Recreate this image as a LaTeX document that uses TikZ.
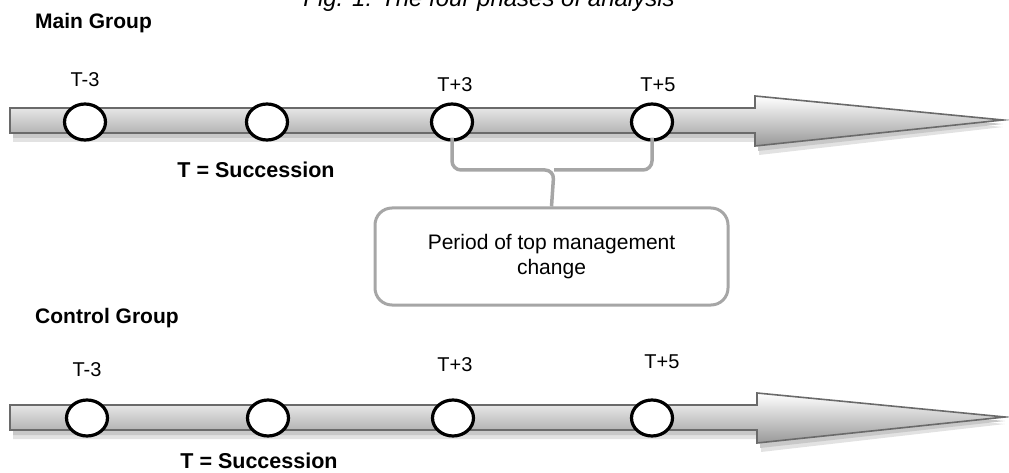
\documentclass[tikz,border=0pt]{standalone}
\usepackage{fontspec}
\setmainfont{Liberation Sans}
\usetikzlibrary{calc,shapes.geometric}
\definecolor{arrowline}{HTML}{6A6A6A}
\definecolor{shadowgray}{HTML}{C8C8C8}
\definecolor{shadowfaint}{HTML}{E2E2E2}
\definecolor{bracegray}{HTML}{A6A6A6}
\tikzset{
  timeline/.style={draw=arrowline, line width=1.6pt, shading=axis,
    top color=white, bottom color=black!40},
  tlshadow/.style={fill=shadowgray, draw=none},
  tlshadowsoft/.style={fill=shadowfaint, draw=none},
  tick/.style={ellipse, draw=black, line width=3.2pt, fill=white,
    minimum width=41pt, minimum height=36pt, inner sep=0pt},
  ticklabel/.style={font=\fontsize{20}{23}\selectfont, inner sep=0pt},
  grouptitle/.style={font=\bfseries\fontsize{21}{25}\selectfont, inner sep=0pt, anchor=west},
  legendtext/.style={font=\bfseries\fontsize{21.5}{25}\selectfont, inner sep=0pt},
  brace/.style={draw=bracegray, line width=3.5pt, rounded corners=9pt},
  notebox/.style={draw=bracegray, line width=3pt, rounded corners=17pt, fill=white,
    minimum width=353pt, minimum height=97pt, align=center,
    font=\fontsize{21}{25}\selectfont}
}
\begin{document}
\begin{tikzpicture}[x=1pt, y=-1pt]
  \useasboundingbox (0,0) rectangle (1009,473);
  \begin{scope}
    \clip (0,0) rectangle (1009,473);
    % figure caption, partly cut off at the top edge
    \node[anchor=base, inner sep=0pt, font=\itshape\fontsize{24}{28}\selectfont]
      (caption) at (489,7) {Fig. 1: The four phases of analysis};
  \end{scope}

  % ---------- main group ----------
  \node[grouptitle] (maintitle) at (35,23) {Main Group};
  \fill[tlshadowsoft] (13,117) -- (759,117) -- (759,105) -- (1003,127) -- (759,155) -- (759,142) -- (13,142) -- cycle;
  \fill[tlshadow] (13,113) -- (758,113) -- (758,101) -- (1003,124) -- (758,151) -- (758,138) -- (13,138) -- cycle;
  \path[timeline] (10,108) -- (755,108) -- (755,96) -- (1003,120) -- (755,146) -- (755,133) -- (10,133) -- cycle;
  \node[tick] (m1) at (85,122) {};
  \node[tick] (m2) at (267,122) {};
  \node[tick] (m3) at (452,122) {};
  \node[tick] (m4) at (652,122) {};
  \node[ticklabel] (m1l) at (85,80) {T-3};
  \node[ticklabel] (m3l) at (455,85) {T+3};
  \node[ticklabel] (m4l) at (658,85) {T+5};
  \node[legendtext] (mainlegend) at (256,170) {T = Succession};

  % period of top management change
  \node[notebox] (box) at (551.5,256.5) {Period of top management\\change};
  \coordinate (bracemid) at (554,170);
  \draw[brace] ($(m3.south)+(0,-4)$) |- (bracemid) -- (box.north);
  \draw[brace] ($(m4.south)+(0,-4)$) |- (bracemid);

  % ---------- control group ----------
  \node[grouptitle] (ctrltitle) at (35,318) {Control Group};
  \fill[tlshadowsoft] (13,414) -- (761,414) -- (761,402) -- (1005,424) -- (761,452) -- (761,439) -- (13,439) -- cycle;
  \fill[tlshadow] (13,410) -- (760,410) -- (760,398) -- (1005,421) -- (760,448) -- (760,435) -- (13,435) -- cycle;
  \path[timeline] (10,405) -- (757,405) -- (757,393) -- (1005,417) -- (757,443) -- (757,430) -- (10,430) -- cycle;
  \node[tick] (c1) at (87,418) {};
  \node[tick] (c2) at (268,418) {};
  \node[tick] (c3) at (453,418) {};
  \node[tick] (c4) at (652,418) {};
  \node[ticklabel] (c1l) at (87,370) {T-3};
  \node[ticklabel] (c3l) at (455,365) {T+3};
  \node[ticklabel] (c4l) at (662,362) {T+5};
  \node[legendtext] (ctrllegend) at (259,461) {T = Succession};
\end{tikzpicture}
\end{document}
